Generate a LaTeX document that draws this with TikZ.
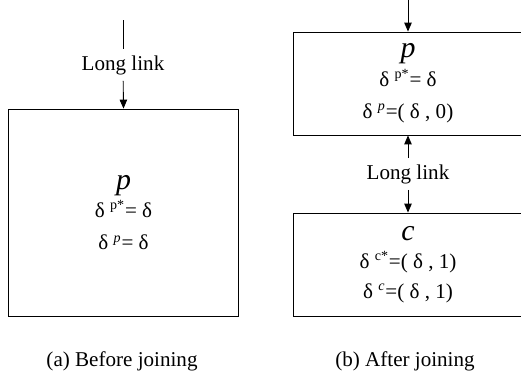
\documentclass[tikz,border=0pt]{standalone}
\usepackage{fontspec}
\setmainfont{Liberation Serif}
\usetikzlibrary{arrows.meta}

\tikzset{
    peer/.style={draw, line width=0.5pt, align=center, inner sep=0pt,
        minimum width=4.6cm, font=\fontsize{12}{18}\selectfont},
    link/.style={line width=0.5pt, -{Triangle[length=1.8mm,width=1.5mm]}},
}

\begin{document}
\begin{tikzpicture}[x=0.02cm, y=-0.02cm]
\clip (0,0) rectangle (521,380);

% (a) one peer reached by a long link
\coordinate (top) at (123,20);
\node[font=\fontsize{12}{14}\selectfont] (ll) at (123,65) {Long link};
\node[peer, minimum height=4.14cm] (p) at (123.5,212.5)
    {{\fontsize{17}{17}\selectfont\textit{p}}\\[-2pt]
     δ \textsuperscript{p*}= δ\\[0.5pt]
     δ \textsuperscript{\textit{p}}= δ};
\draw[line width=0.5pt] (top) -- (ll);
\draw[link] (ll) -- (p.north);

% (b) the link now joins parent and child
\coordinate (top2) at (408,-2);
\node[peer, minimum height=2.06cm] (p2) at (408,83.5)
    {{\fontsize{17}{17}\selectfont\textit{p}}\\[-2pt]
     δ \textsuperscript{p*}= δ\\[0.5pt]
     δ \textsuperscript{\textit{p}}=( δ , 0)};
\node[font=\fontsize{12}{14}\selectfont] (ll2) at (408,174) {Long link};
\node[peer, minimum height=2.06cm] (c) at (408,264.5)
    {{\fontsize{17}{17}\selectfont\textit{c}}\\[-2pt]
     δ \textsuperscript{c*}=( δ , 1)\\[-1pt]
     δ \textsuperscript{\textit{c}}=( δ , 1)};
\draw[link] (top2) -- (p2.north);
\draw[link] (ll2) -- (p2.south);
\draw[link] (ll2) -- (c.north);

% captions
\node[font=\fontsize{12}{14}\selectfont] (capa) at (122,361) {(a) Before joining};
\node[font=\fontsize{12}{14}\selectfont] (capb) at (405,361) {(b) After joining};
\end{tikzpicture}
\end{document}
